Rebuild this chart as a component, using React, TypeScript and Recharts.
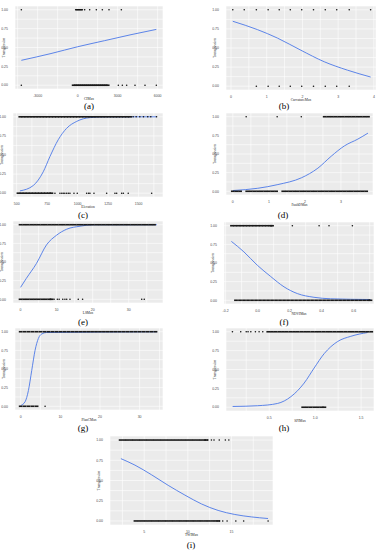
import React from "react";
import { ComposedChart, Scatter, Line, XAxis, YAxis, CartesianGrid } from "recharts";

// ---- data ----
const yTicks = [0, 0.125, 0.25, 0.375, 0.5, 0.625, 0.75, 0.875, 1];
const yTickLabels: Record<string, string> = { "0": "0.00", "0.25": "0.25", "0.5": "0.50", "0.75": "0.75", "1": "1.00" };
const yLabel = "Transgression";

// (a)
const aTicks = [-4500, -3000, -1500, 0, 1500, 3000, 4500, 6000];
const aMajor = [-3000, 0, 3000, 6000];
const aOnes = [-4225, -150, -100, -50, 0, 50, 100, 150, 200, 250, 300, 350, 525, 900, 1400, 1850, 2350, 3275];
const aZerosDense = [-300, -150, 0, 150, 300, 450, 600, 750, 900, 1050, 1200, 1350, 1500, 1650, 1800, 1950, 2100, 2250];
const aZeros = [-4225, 3050, 3350, 3675, 4300, 5050, 5900];
const aCurveX = [-4225, -2000, 0, 2000, 4000, 5900];
const aCurveY = [0.33, 0.42, 0.51, 0.59, 0.67, 0.74];

// (b)
const bTicks = [0, 0.5, 1, 1.5, 2, 2.5, 3, 3.5, 4];
const bMajor = [0, 1, 2, 3, 4];
const bOnes = [0.05, 0.37, 0.71, 1.04, 1.35, 1.66, 1.98, 2.31, 2.64, 2.96, 3.31, 3.91];
const bZeros = [0.71, 1.04, 1.35, 1.66, 1.98, 2.31, 2.64, 2.96, 3.31];
const bCurveX = [0.05, 0.745, 1.3, 1.96, 2.61, 3.26, 3.91];
const bCurveY = [0.85, 0.74, 0.63, 0.47, 0.32, 0.21, 0.12];

// (c)
const cTicks = [500, 625, 750, 875, 1000, 1125, 1250, 1375, 1500, 1625];
const cMajor = [500, 750, 1000, 1250, 1500];
const cOnesDense = [530, 555, 580, 605, 630, 655, 680, 705, 730, 755, 780, 805, 830, 855, 880, 905, 930, 955, 980, 1005, 1030, 1055, 1080, 1105, 1130, 1155, 1180, 1205, 1230, 1255, 1280, 1305, 1330, 1355, 1380, 1405, 1430];
const cOnes = [1455, 1480, 1510, 1540, 1575, 1600, 1647];
const cZerosDense = [515, 540, 565, 590, 615, 640, 665, 690, 715, 740, 765, 785];
const cZeros = [814, 855, 870, 882, 895, 910, 924, 937, 970, 997, 1074, 1090, 1101, 1134, 1238, 1306, 1320, 1361, 1375, 1415, 1607];
const cCurveX = [527, 636, 718, 773, 841, 910, 992, 1101, 1237, 1647];
const cCurveY = [0.03, 0.1, 0.28, 0.48, 0.7, 0.85, 0.94, 0.99, 1.0, 1.0];

// (d)
const dTicks = [0, 0.5, 1, 1.5, 2, 2.5, 3, 3.5];
const dMajor = [0, 1, 2, 3];
const dOnes = [0.37, 1.23, 1.9];
const dOnesDense = [2.55, 2.65, 2.75, 2.85, 2.95, 3.05, 3.15, 3.25, 3.35, 3.45, 3.55, 3.65, 3.75];
const dZerosDense = [0, 0.1, 0.2, 0.4, 0.5, 0.6, 0.7, 0.8, 0.9, 1.0, 1.1, 1.2, 1.4, 1.5, 1.6, 1.7, 1.8, 1.9, 2.0, 2.1, 2.2, 2.3, 2.4, 2.5, 2.6, 2.7, 2.8, 2.9, 3.0, 3.1, 3.2, 3.3, 3.4, 3.5, 3.6, 3.7];
const dZeros: number[] = [];
const dCurveX = [0, 0.69, 1.25, 1.9, 2.36, 2.73, 3.1, 3.47, 3.75];
const dCurveY = [0.01, 0.04, 0.09, 0.18, 0.31, 0.47, 0.61, 0.7, 0.78];

// (e)
const eTicks = [0, 5, 10, 15, 20, 25, 30, 35];
const eMajor = [0, 10, 20, 30];
const eOnesDense = [0, 1, 2, 3, 4, 5, 6, 7, 8, 9, 10, 11, 12, 13, 14, 15, 16, 17, 18, 19, 20, 21, 22, 23, 24, 25, 26, 27, 28, 29, 30, 31, 32, 33, 34, 35, 36, 37];
const eOnes: number[] = [];
const eZerosDense = [0, 1, 2, 3, 4, 5, 6, 7, 8, 8.6];
const eZeros = [9.3, 10.2, 10.7, 11.7, 12.3, 12.8, 13.7, 16.0, 17.2, 33.6, 34.3];
const eCurveX = [0, 1.6, 4.4, 7.2, 10, 12.8, 16.5, 20.2, 37.8];
const eCurveY = [0.16, 0.28, 0.48, 0.73, 0.86, 0.94, 0.98, 1.0, 1.0];

// (f)
const fTicks = [-0.2, -0.1, 0, 0.1, 0.2, 0.3, 0.4, 0.5, 0.6, 0.7];
const fMajor = [-0.2, 0, 0.2, 0.4, 0.6];
const fOnesDense = [-0.16, -0.14, -0.12, -0.1, -0.08, -0.06, -0.04, -0.02, 0, 0.02, 0.04, 0.06, 0.08, 0.09];
const fOnes = [0.217, 0.384, 0.446, 0.592];
const fZerosDense = [-0.135, -0.11, -0.085, -0.06, -0.035, -0.01, 0.015, 0.04, 0.065, 0.09, 0.115, 0.14, 0.165, 0.19, 0.215, 0.24, 0.265, 0.29, 0.315, 0.34, 0.365, 0.39, 0.415, 0.44, 0.465, 0.49, 0.515, 0.54, 0.565, 0.59, 0.615, 0.64, 0.665, 0.69, 0.705];
const fZeros: number[] = [];
const fCurveX = [-0.164, -0.086, -0.002, 0.081, 0.165, 0.248, 0.352, 0.456, 0.706];
const fCurveY = [0.79, 0.65, 0.47, 0.32, 0.18, 0.09, 0.04, 0.02, 0.01];

// (g)
const gTicks = [0, 5, 10, 15, 20, 25, 30, 35];
const gMajor = [0, 10, 20, 30];
const gOnesDense = [0, 1, 2, 3, 4, 5, 6, 7, 8, 9, 10, 11, 12, 13, 14, 15, 16, 17, 18, 19, 20, 21, 22, 23, 24, 25, 26, 27, 28, 29, 30, 31, 32, 33, 34];
const gOnes: number[] = [];
const gZerosDense = [0, 1, 2, 3, 4];
const gZeros = [6.15];
const gCurveX = [0, 1.1, 1.94, 2.78, 3.62, 4.46, 5.3, 6.57, 34.4];
const gCurveY = [0.01, 0.06, 0.21, 0.48, 0.75, 0.91, 0.97, 0.99, 1.0];

// (h)
const hTicks = [0.25, 0.5, 0.75, 1.0, 1.25, 1.5];
const hMajor = [0.5, 1.0, 1.5];
const hOnes = [0.1, 0.19, 0.25, 0.27, 0.3, 0.35, 0.39, 0.43];
const hOnesDense = [0.49, 0.53, 0.57, 0.61, 0.65, 0.69, 0.73, 0.77, 0.81, 0.85, 0.89, 0.93, 0.97, 1.01, 1.05, 1.09, 1.13, 1.17, 1.21, 1.25, 1.29, 1.33, 1.37, 1.41, 1.45, 1.49, 1.53, 1.57, 1.61];
const hZerosDense = [0.87, 0.91, 0.95, 0.99, 1.03, 1.07, 1.1];
const hZeros: number[] = [];
const hCurveX = [0.102, 0.374, 0.591, 0.736, 0.88, 0.989, 1.098, 1.243, 1.388, 1.57];
const hCurveY = [0.01, 0.02, 0.05, 0.14, 0.32, 0.52, 0.71, 0.87, 0.94, 0.99];

// (i)
const iTicks = [2.5, 5, 7.5, 10, 12.5, 15, 17.5];
const iMajor = [5, 10, 15];
const iOnesDense = [2.3, 2.7, 3.1, 3.5, 3.9, 4.3, 4.7, 5.1, 5.5, 5.9, 6.3, 6.7, 7.1, 7.5, 7.9, 8.3, 8.7, 9.1, 9.5, 9.9, 10.3, 10.7, 11.1, 11.5, 11.9, 12.1];
const iOnes = [12.3, 12.7, 13.0, 13.6, 14.3, 14.7];
const iZerosDense = [4.0, 4.4, 4.8, 5.2, 5.6, 6.0, 6.4, 6.8, 7.2, 7.6, 8.0, 8.4, 8.8, 9.2, 9.6, 10.0, 10.4, 10.8, 11.2, 11.6, 12.0, 12.4, 12.8, 13.2, 13.5];
const iZeros = [13.6, 14.0, 14.5, 15.5, 16.4, 19.2];
const iCurveX = [2.33, 3.94, 5.85, 7.75, 9.66, 11.57, 13.47, 15.38, 17.29, 19.19];
const iCurveY = [0.77, 0.69, 0.57, 0.44, 0.32, 0.21, 0.13, 0.08, 0.05, 0.03];

// ---- panel layout ----
const YW = 14;
const XH = 11;
const MT = 2;
const MR = 3;

const fmtX = (major: number[]) => (v: number) => {
  if (!major.some((m) => Math.abs(m - v) < 1e-9)) return "";
  if (major.some((m) => !Number.isInteger(m))) {
    const dec = major.some((m) => Math.abs(m * 10 - Math.round(m * 10)) > 1e-9) ? 2 : 1;
    return v.toFixed(dec);
  }
  return String(v);
};

const pts = (xs: number[], y: number) => xs.map((x) => ({ x, y }));
const curve = (xs: number[], ys: number[]) => xs.map((x, i) => ({ x, y: ys[i] }));

const Dot = (p: any) => <circle cx={p.cx} cy={p.cy} r={0.8} fill="#111" />;
const Strip = (p: any) => <rect x={p.cx - 1.9} y={p.cy - 0.8} width={3.8} height={1.6} fill="#1a1a1a" />;

interface PanelProps {
  L: number; T: number; W: number; H: number;
  domain: [number, number];
  ticks: number[]; major: number[];
  xLabel: string;
  ones: number[]; onesDense: number[];
  zeros: number[]; zerosDense: number[];
  cx: number[]; cy: number[];
  tag: string; tagX: number; tagY: number;
}

function Panel(p: PanelProps) {
  const w = p.W + YW + MR;
  const h = p.H + MT + XH;
  const tick = { fontSize: 3.5, fill: "#4D4D4D", fontFamily: "Liberation Sans" };
  return (
    <>
      <div style={{ position: "absolute", left: p.L - YW, top: p.T - MT }}>
        <ComposedChart width={w} height={h} margin={{ top: MT, right: MR, left: 0, bottom: 0 }}>
          <CartesianGrid fill="#EBEBEB" stroke="#FFFFFF" strokeWidth={0.6} />
          <XAxis
            type="number" dataKey="x" domain={p.domain} ticks={p.ticks} interval={0}
            tickFormatter={fmtX(p.major)} axisLine={false} tickLine={false} tick={tick}
            tickMargin={0} height={XH} allowDataOverflow
            label={{ value: p.xLabel, position: "insideBottom", offset: 0, fontSize: 3.5, fill: "#222" }}
          />
          <YAxis
            type="number" dataKey="y" domain={[-0.05, 1.05]} ticks={yTicks} interval={0}
            tickFormatter={(v: number) => yTickLabels[String(v)] ?? ""} axisLine={false} tickLine={false}
            tick={tick} tickMargin={1} width={YW}
            label={{ value: yLabel, angle: -90, position: "insideLeft", offset: 3, fontSize: 3.5, fill: "#222", style: { textAnchor: "middle" } }}
          />
          <Scatter data={pts(p.zerosDense, 0)} dataKey="y" shape={Strip} isAnimationActive={false} />
          <Scatter data={pts(p.onesDense, 1)} dataKey="y" shape={Strip} isAnimationActive={false} />
          <Scatter data={pts(p.zeros, 0)} dataKey="y" shape={Dot} isAnimationActive={false} />
          <Scatter data={pts(p.ones, 1)} dataKey="y" shape={Dot} isAnimationActive={false} />
          <Line data={curve(p.cx, p.cy)} dataKey="y" type="monotone" stroke="#4C78E8" strokeWidth={0.9}
            dot={false} isAnimationActive={false} />
        </ComposedChart>
      </div>
      <div style={{ position: "absolute", left: p.tagX - 20, top: p.tagY - 5, width: 40, height: 10, lineHeight: "10px",
        textAlign: "center", fontFamily: "Liberation Serif", fontSize: 9, color: "#000" }}>
        {p.tag}
      </div>
    </>
  );
}

const panels: PanelProps[] = [
  { L: 15, T: 6, W: 148, H: 83, domain: [-4700, 6400], ticks: aTicks, major: aMajor, xLabel: "CIMax",
    ones: aOnes, onesDense: [], zeros: aZeros, zerosDense: aZerosDense, cx: aCurveX, cy: aCurveY, tag: "(a)", tagX: 89, tagY: 106 },
  { L: 226, T: 6, W: 150, H: 84, domain: [-0.14, 4.06], ticks: bTicks, major: bMajor, xLabel: "CurvatureMax",
    ones: bOnes, onesDense: [], zeros: bZeros, zerosDense: [], cx: bCurveX, cy: bCurveY, tag: "(b)", tagX: 284, tagY: 106 },
  { L: 13, T: 113, W: 150, H: 84, domain: [470, 1700], ticks: cTicks, major: cMajor, xLabel: "Elevation",
    ones: cOnes, onesDense: cOnesDense, zeros: cZeros, zerosDense: cZerosDense, cx: cCurveX, cy: cCurveY, tag: "(c)", tagX: 83, tagY: 215 },
  { L: 226, T: 113, W: 147, H: 82, domain: [-0.19, 3.89], ticks: dTicks, major: dMajor, xLabel: "FaultDMax",
    ones: dOnes, onesDense: dOnesDense, zeros: dZeros, zerosDense: dZerosDense, cx: dCurveX, cy: dCurveY, tag: "(d)", tagX: 283, tagY: 215 },
  { L: 13, T: 221, W: 150, H: 82, domain: [-2.1, 39.5], ticks: eTicks, major: eMajor, xLabel: "LSMax",
    ones: eOnes, onesDense: eOnesDense, zeros: eZeros, zerosDense: eZerosDense, cx: eCurveX, cy: eCurveY, tag: "(e)", tagX: 83, tagY: 322 },
  { L: 224, T: 222, W: 150, H: 82, domain: [-0.21, 0.727], ticks: fTicks, major: fMajor, xLabel: "NDVIMax",
    ones: fOnes, onesDense: fOnesDense, zeros: fZeros, zerosDense: fZerosDense, cx: fCurveX, cy: fCurveY, tag: "(f)", tagX: 284, tagY: 322 },
  { L: 15, T: 328, W: 148, H: 82, domain: [-1.44, 35.9], ticks: gTicks, major: gMajor, xLabel: "PlanCMax",
    ones: gOnes, onesDense: gOnesDense, zeros: gZeros, zerosDense: gZerosDense, cx: gCurveX, cy: gCurveY, tag: "(g)", tagX: 83, tagY: 428 },
  { L: 226, T: 328, W: 148, H: 83, domain: [0.03, 1.64], ticks: hTicks, major: hMajor, xLabel: "SPIMax",
    ones: hOnes, onesDense: hOnesDense, zeros: hZeros, zerosDense: hZerosDense, cx: hCurveX, cy: hCurveY, tag: "(h)", tagX: 284, tagY: 428 },
  { L: 110, T: 436, W: 163, H: 89, domain: [1.08, 19.76], ticks: iTicks, major: iMajor, xLabel: "TWIMax",
    ones: iOnes, onesDense: iOnesDense, zeros: iZeros, zerosDense: iZerosDense, cx: iCurveX, cy: iCurveY, tag: "(i)", tagX: 191, tagY: 545 },
];

export default function App() {
  return (
    <div style={{ position: "absolute", left: 0, top: 0, width: 382, height: 550, background: "#fff", overflow: "hidden" }}>
      {panels.map((p) => (
        <Panel key={p.tag} {...p} />
      ))}
    </div>
  );
}
